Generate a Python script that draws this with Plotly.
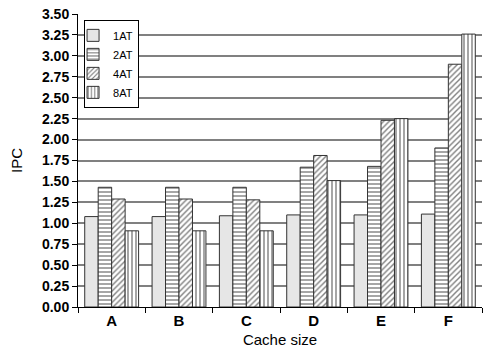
import plotly.graph_objects as go

categories = ["A", "B", "C", "D", "E", "F"]
series_names = ["1AT", "2AT", "4AT", "8AT"]
ipc_1at = [1.08, 1.08, 1.09, 1.10, 1.10, 1.11]
ipc_2at = [1.43, 1.43, 1.43, 1.67, 1.68, 1.90]
ipc_4at = [1.29, 1.29, 1.28, 1.81, 2.23, 2.90]
ipc_8at = [0.91, 0.91, 0.91, 1.51, 2.25, 3.26]
y_ticks = [i * 0.25 for i in range(15)]
y_tick_labels = [f"{v:.2f}" for v in y_ticks]

values = [ipc_1at, ipc_2at, ipc_4at, ipc_8at]
shapes = ["", "-", "/", "|"]

fig = go.Figure()
for name, vals, shp in zip(series_names, values, shapes):
    fig.add_trace(go.Bar(
        x=categories, y=vals, name=name,
        marker=dict(
            color="#e6e6e6" if shp == "" else "white",
            line=dict(color="#333333", width=1),
            pattern=dict(shape=shp, fgcolor="black", bgcolor="white", size=4, solidity=0.35) if shp else None,
        ),
    ))

FONT = "Liberation Sans, Arial, sans-serif"
fig.update_layout(
    width=483, height=357,
    margin=dict(l=78, r=1, t=14, b=50, autoexpand=False),
    paper_bgcolor="white", plot_bgcolor="white",
    barmode="group", bargap=0.2, bargroupgap=0,
    font=dict(family=FONT, color="black"),
    showlegend=True,
    legend=dict(
        x=0.015, y=0.98, xanchor="left", yanchor="top",
        bgcolor="white", bordercolor="black", borderwidth=1,
        font=dict(size=11, family=FONT), tracegroupgap=0, itemwidth=30,
        indentation=-12,
    ),
)
fig.update_xaxes(
    title=dict(text="Cache size", font=dict(size=15), standoff=6),
    tickfont=dict(size=15, weight="bold"),
    showline=True, linecolor="black", linewidth=1,
    ticks="outside", tickson="boundaries", ticklen=5, tickcolor="black",
    showgrid=False, automargin=False,
)
fig.update_yaxes(
    title=dict(text="IPC", font=dict(size=15), standoff=15),
    range=[0, 3.5], tickvals=y_ticks, ticktext=y_tick_labels,
    tickfont=dict(size=14, weight="bold"),
    showline=True, linecolor="black", linewidth=1,
    ticks="outside", ticklen=5, tickcolor="black",
    showgrid=True, gridcolor="#808080", gridwidth=1.5,
    zeroline=False, automargin=False,
)

fig.write_html("out.html", config={"displayModeBar": False},
               post_script="document.body.style.margin='0';")
